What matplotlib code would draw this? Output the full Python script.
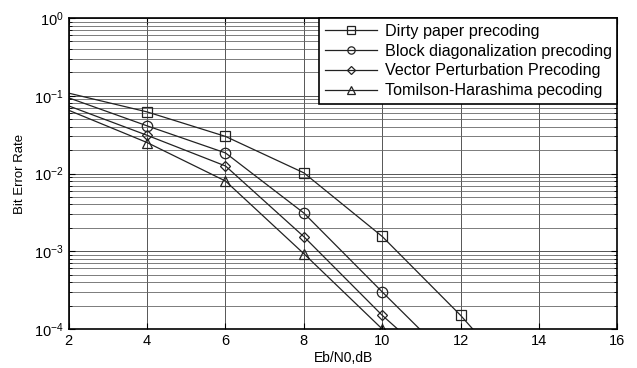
import numpy as np
import matplotlib
matplotlib.use('Agg')
import matplotlib.pyplot as plt

plt.rcParams['font.family'] = ['Liberation Sans', 'DejaVu Sans']

# Eb/N0 values (dB)
snr = [2, 4, 6, 8, 10, 12, 14]

# BER (last points fall below the axis and get clipped)
ber_dpc = [0.108, 0.062, 0.030, 0.0102, 0.00155, 0.00015, 0.000011]
ber_bd = [0.094, 0.041, 0.0184, 0.0031, 0.0003, 0.00003]
ber_vp = [0.074, 0.031, 0.0125, 0.00154, 0.00015, 0.000019]
ber_th = [0.065, 0.025, 0.008, 0.00093, 0.0001, 0.000012]

labels = ['Dirty paper precoding',
          'Block diagonalization precoding',
          'Vector Perturbation Precoding',
          'Tomilson-Harashima pecoding']
markers = ['s', 'o', 'D', '^']

fig = plt.figure(figsize=(6.37, 3.68), dpi=100)
ax = fig.add_axes([0.108, 0.106, 0.861, 0.845])

series = [ber_dpc, ber_bd, ber_vp, ber_th]
for ber, lab, mk in zip(series, labels, markers):
    ms = 5.5 if mk == 'D' else 7.5
    # no marker on the first point (x=2)
    ax.semilogy(snr[:len(ber)], ber, color='#222222', lw=0.9, marker=mk,
                ms=ms, mfc='none', mec='#222222', mew=0.9, label=lab,
                markevery=slice(1, None))

ax.set_xlim(2, 16)
ax.set_ylim(1e-4, 1)
ax.set_xticks([2, 4, 6, 8, 10, 12, 14, 16])
ax.grid(True, which='major', color='#555555', lw=0.7)
ax.grid(True, which='minor', axis='y', color='#666666', lw=0.6)
ax.tick_params(which='both', direction='in', top=True, right=True,
               labelsize=10.5, colors='black')
ax.tick_params(which='major', length=4)
ax.tick_params(which='minor', length=2)
for sp in ax.spines.values():
    sp.set_linewidth(1.2)

ax.set_xlabel('Eb/N0,dB', fontsize=10, labelpad=2)
ax.set_ylabel('Bit Error Rate', fontsize=9.5, labelpad=6)

leg = ax.legend(loc='upper right', fontsize=11.6, fancybox=False,
                framealpha=1, edgecolor='black', borderaxespad=0,
                handlelength=3.2, handletextpad=0.5, labelspacing=0.3,
                borderpad=0.35, markerscale=0.7)
leg.get_frame().set_linewidth(1.2)

fig.savefig('out.png', dpi=100)
